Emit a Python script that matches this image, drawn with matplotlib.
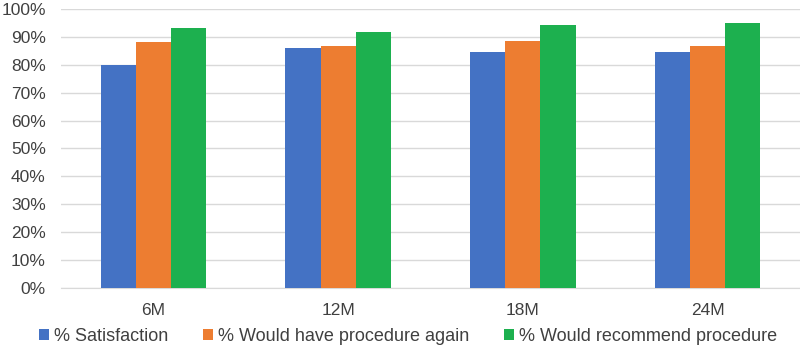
import numpy as np
import matplotlib.pyplot as plt
from matplotlib.ticker import PercentFormatter

# data
categories = ['6M', '12M', '18M', '24M']
satisfaction = [80.0, 86.0, 84.7, 84.7]
procedure_again = [88.0, 86.6, 88.4, 86.7]
recommend = [93.2, 91.6, 94.2, 94.9]
series_names = ['% Satisfaction', '% Would have procedure again', '% Would recommend procedure']

colors = ['#4472C4', '#ED7D31', '#1DB04F']
plt.rcParams['font.family'] = ['Liberation Sans', 'DejaVu Sans']

fig = plt.figure(figsize=(8, 3.52), dpi=100)
ax = fig.add_axes([0.0763, 0.182, 0.9237, 0.7924])

x = np.arange(len(categories))
w = 0.19
for i, (vals, name) in enumerate(zip([satisfaction, procedure_again, recommend], series_names)):
    ax.bar(x + (i - 1) * w, vals, width=w, color=colors[i], label=name, zorder=3)

ax.set_xlim(-0.5, len(categories) - 0.5)
ax.set_ylim(0, 100)
ax.set_yticks(np.arange(0, 101, 10))
ax.yaxis.set_major_formatter(PercentFormatter(decimals=0))
ax.set_xticks(x)
ax.set_xticklabels(categories)
ax.grid(axis='y', color='#D9D9D9', linewidth=1, zorder=0)
for s in ['top', 'right', 'left']:
    ax.spines[s].set_visible(False)
ax.spines['bottom'].set_color('#D9D9D9')
ax.tick_params(axis='both', length=0, labelsize=12.5, colors='#404040')
ax.tick_params(axis='y', pad=11)
ax.tick_params(axis='x', pad=11)

fig.legend(loc='center', bbox_to_anchor=(0.51, 0.045), ncol=3, frameon=False,
           fontsize=13, handlelength=0.55, handleheight=0.55, handletextpad=0.3,
           columnspacing=1.9, labelcolor='#404040')

fig.savefig('out.png', dpi=100)
